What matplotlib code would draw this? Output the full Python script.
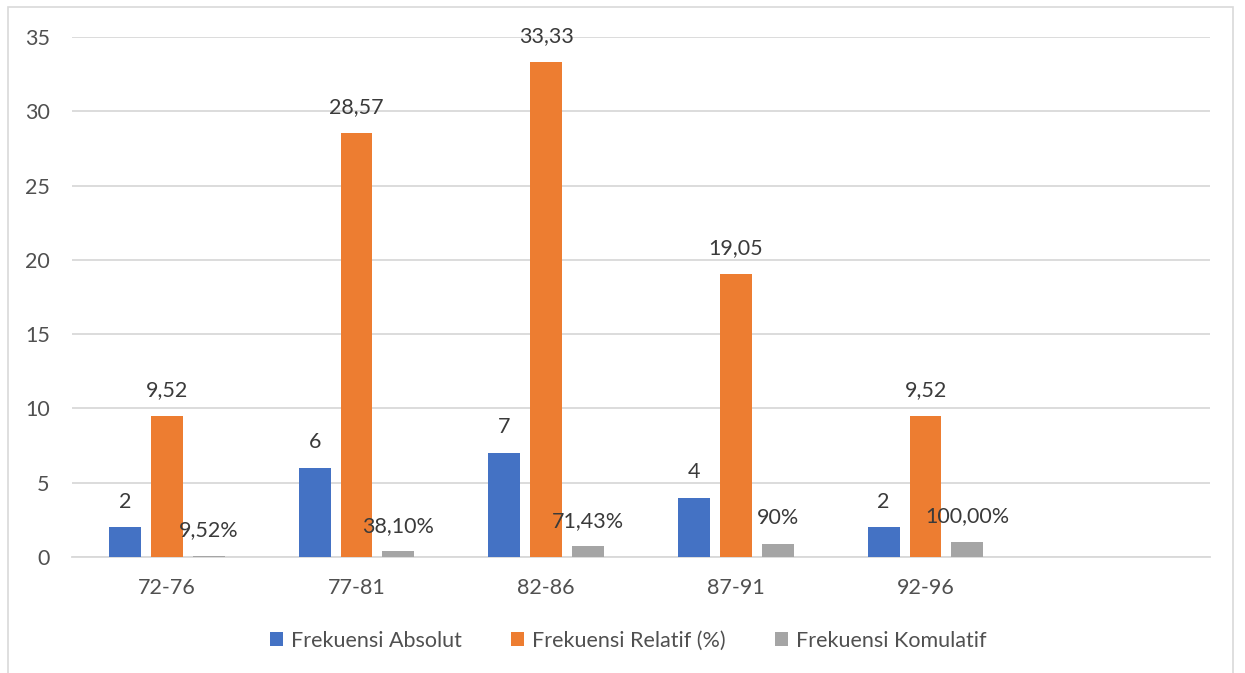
import matplotlib
matplotlib.use('Agg')
from matplotlib import pyplot as plt
from matplotlib.patches import Rectangle
import numpy as np

plt.rcParams['font.family'] = ['Lato', 'DejaVu Sans']

# data
kelas = ['72-76', '77-81', '82-86', '87-91', '92-96']
absolut = [2, 6, 7, 4, 2]
relatif = [9.52, 28.57, 33.33, 19.05, 9.52]
komulatif = [0.0952, 0.381, 0.7143, 0.9, 1.0]
komulatif_label = ['9,52%', '38,10%', '71,43%', '90%', '100,00%']

c_blue = '#4472C4'
c_orange = '#ED7D31'
c_gray = '#A5A5A5'
txt = '#3A3A3A'
tick_c = '#505050'

fig = plt.figure(figsize=(12.45, 6.73), dpi=100)
ax = fig.add_axes([72/1245, 1-557/673, (1210-72)/1245, (557-37)/673])

x = np.arange(len(kelas))
w = 0.168
step = 0.221

b1 = ax.bar(x - step, absolut, w, color=c_blue, label='Frekuensi Absolut', zorder=3)
b2 = ax.bar(x, relatif, w, color=c_orange, label='Frekuensi Relatif (%)', zorder=3)
b3 = ax.bar(x + step, komulatif, w, color=c_gray, label='Frekuensi Komulatif', zorder=3)

def lab(bars, texts):
    for b, t in zip(bars, texts):
        ax.annotate(t, (b.get_x() + b.get_width()/2, b.get_height()),
                    xytext=(0, 18.5), textcoords='offset points',
                    ha='center', va='center', fontsize=15.5, color=txt, zorder=4)

lab(b1, [str(v) for v in absolut])
lab(b2, [('%.2f' % v).replace('.', ',') for v in relatif])
lab(b3, komulatif_label)

ax.set_ylim(0, 35)
ax.set_yticks(range(0, 36, 5))
ax.set_xlim(-0.5, 5.5)
ax.set_xticks(x)
ax.set_xticklabels(kelas)
ax.tick_params(axis='both', length=0, labelsize=15.5, labelcolor=tick_c)
ax.tick_params(axis='x', pad=15)
ax.tick_params(axis='y', pad=16)
ax.grid(axis='y', color='#D9D9D9', linewidth=1.3, zorder=0)
for s in ['top', 'right', 'left']:
    ax.spines[s].set_visible(False)
ax.spines['bottom'].set_color('#D9D9D9')
ax.spines['bottom'].set_linewidth(1.3)

leg = fig.legend(handles=[b1, b2, b3], loc='center', bbox_to_anchor=(628/1245, 1-641/673),
                 ncol=3, frameon=False, fontsize=15.5, handlelength=0.62, handleheight=0.62,
                 handletextpad=0.35, columnspacing=2.3)
for t in leg.get_texts():
    t.set_color(tick_c)

fig.patches.append(Rectangle((8/1245, -0.05), (1233-8)/1245, 1.05-7/673,
                             transform=fig.transFigure, fill=False,
                             edgecolor='#D9D9D9', linewidth=1.2))

fig.savefig('out.png', dpi=100, facecolor='white')
